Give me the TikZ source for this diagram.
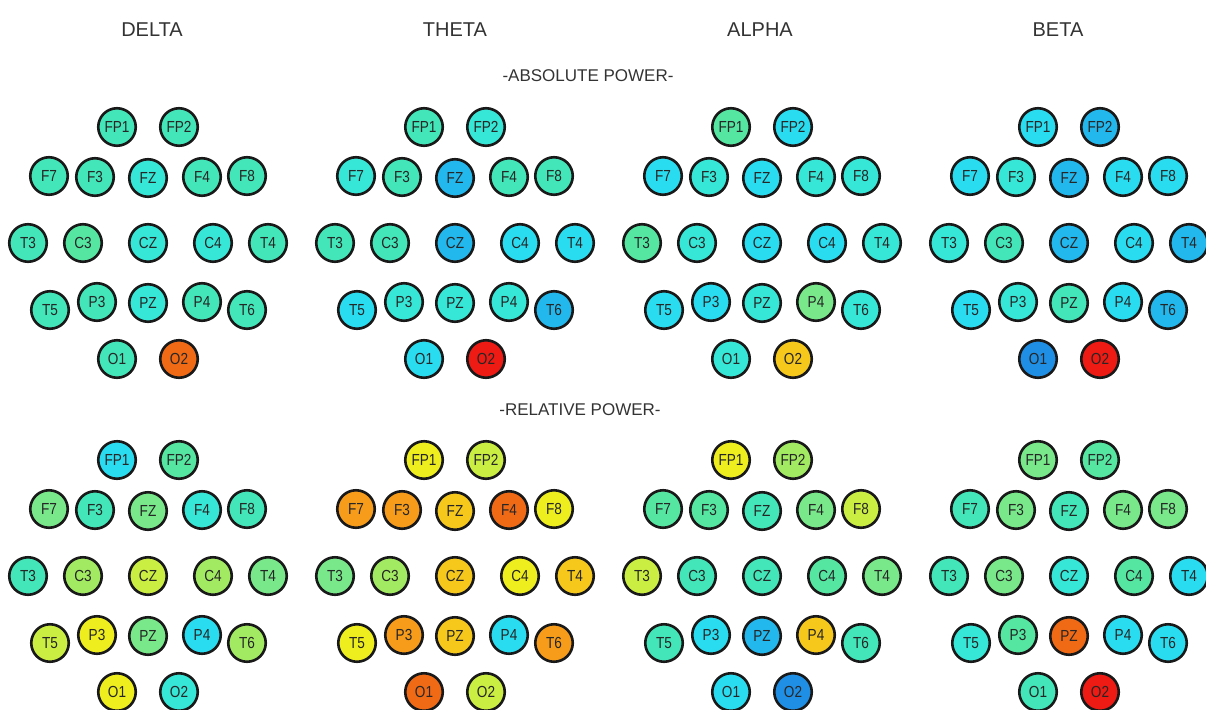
\documentclass[tikz,border=0pt]{standalone}
\usepackage{fontspec}
\setmainfont{Liberation Sans}
\newfontfamily\elecfont[FakeStretch=0.85]{Liberation Sans}
\usepackage{tikz}

% jet-like colour scale, 0 = blue ... 13 = red
\definecolor{j0}{HTML}{1F8FE6}
\definecolor{j1}{HTML}{22B8EE}
\definecolor{j2}{HTML}{2ADCF0}
\definecolor{j3}{HTML}{36E6D6}
\definecolor{j4}{HTML}{42E6B8}
\definecolor{j5}{HTML}{55E6A2}
\definecolor{j6}{HTML}{78E88A}
\definecolor{j7}{HTML}{A2EA62}
\definecolor{j8}{HTML}{CBEE42}
\definecolor{j9}{HTML}{EEEE1E}
\definecolor{j10}{HTML}{F6C81C}
\definecolor{j11}{HTML}{F69C1A}
\definecolor{j12}{HTML}{F06A16}
\definecolor{j13}{HTML}{EE1A14}
\definecolor{txt}{HTML}{333333}

\tikzstyle{elec} = [circle, draw=black!90, line width=2.6pt, minimum size=37.5pt, inner sep=0pt, text=black!85, font=\elecfont\fontsize{16}{16}\selectfont]
\tikzstyle{band} = [text=txt, font=\fontsize{20}{20}\selectfont]
\tikzstyle{power} = [text=txt, font=\fontsize{17}{17}\selectfont]

% one head map: #1 name, #2 x, #3 y of CZ, #4 colour index per electrode
\newcommand{\eegmap}[4]{%
  \foreach \lab/\dx/\dy [count=\i] in {FP1/-31/-116, FP2/31/-116,
      F7/-99/-67, F3/-53/-66, FZ/0/-65, F4/54/-66, F8/99/-67,
      T3/-120/0, C3/-65/0, CZ/0/0, C4/65/0, T4/120/0,
      T5/-98/67, P3/-51/59, PZ/0/60, P4/54/59, T6/99/67,
      O1/-31/116, O2/31/116} {
    \pgfmathtruncatemacro{\v}{{#4}[\i-1]}
    \node[elec, fill=j\v] (#1-\lab) at (#2+\dx, #3+\dy) {\lab};
  }
}

\begin{document}
\begin{tikzpicture}[x=1pt, y=-1pt]
	\useasboundingbox (0,0) rectangle (1206,709);
	\node[band] (delta) at (152,30) {DELTA};
	\node[band] (theta) at (455,30) {THETA};
	\node[band] (alpha) at (760,30) {ALPHA};
	\node[band] (beta) at (1058,30) {BETA};
	\node[power] (abs) at (588,76) {-ABSOLUTE POWER-};
	\node[power] (rel) at (580,410) {-RELATIVE POWER-};
	% absolute power
	\eegmap{dabs}{148}{243}{4,4,4,4,3,4,4,4,5,3,3,4,4,4,3,4,4,4,12}
	\eegmap{tabs}{455}{243}{4,3,3,4,1,4,4,4,4,1,2,2,2,3,3,3,1,2,13}
	\eegmap{aabs}{762}{243}{5,2,2,3,2,3,3,5,3,2,2,3,2,2,3,6,3,3,10}
	\eegmap{babs}{1069}{243}{2,1,2,3,1,2,2,3,4,1,2,1,2,3,4,2,1,0,13}
	% relative power
	\eegmap{drel}{148}{576}{2,5,6,4,6,3,4,4,7,8,7,6,8,9,6,2,7,9,3}
	\eegmap{trel}{455}{576}{9,8,11,11,10,12,9,6,7,10,9,10,9,11,10,2,11,12,8}
	\eegmap{arel}{762}{576}{9,7,5,5,4,6,8,8,4,4,5,6,4,2,1,10,4,2,0}
	\eegmap{brel}{1069}{576}{6,5,4,6,4,6,6,4,6,3,5,2,3,5,12,2,2,4,13}
\end{tikzpicture}
\end{document}
